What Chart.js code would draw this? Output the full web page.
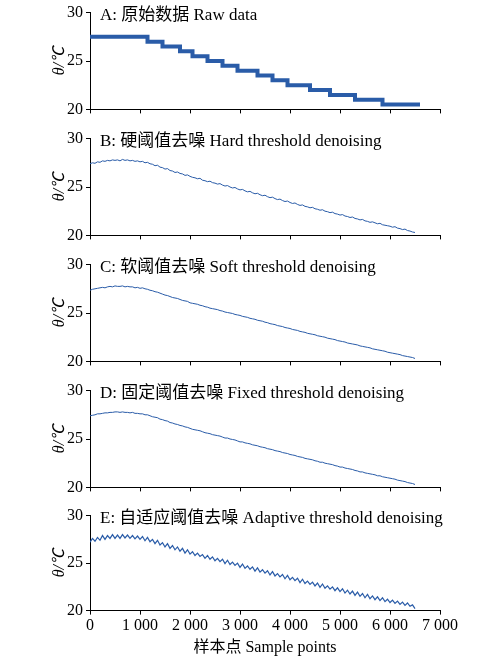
<!DOCTYPE html>
<html><head><meta charset="utf-8">
<script src="https://cdn.jsdelivr.net/npm/chart.js@4"></script>
<style>
body{margin:0;background:#fff;width:500px;height:660px;position:relative;overflow:hidden}
canvas{position:absolute;left:0}
.lab{position:absolute;left:100px;font:17px "Liberation Serif","Noto Sans CJK SC",serif;color:#000;white-space:nowrap}
</style></head><body>
<script>
const STEP = 50;
const panelLabels = ["A: 原始数据 Raw data","B: 硬阈值去噪 Hard threshold denoising","C: 软阈值去噪 Soft threshold denoising","D: 固定阈值去噪 Fixed threshold denoising","E: 自适应阈值去噪 Adaptive threshold denoising"];
const xTicks = [0,1000,2000,3000,4000,5000,6000,7000];
const yTicks = [20,25,30];
const rawData = [27.5,27.5,27.5,27.5,27.5,27.5,27.5,27.5,27.5,27.5,27.5,27.5,27.5,27.5,27.5,27.5,27.5,27.5,27.5,27.5,27.5,27.5,27.5,27.0,27.0,27.0,27.0,27.0,27.0,26.5,26.5,26.5,26.5,26.5,26.5,26.5,26.0,26.0,26.0,26.0,26.0,25.5,25.5,25.5,25.5,25.5,25.5,25.0,25.0,25.0,25.0,25.0,25.0,24.5,24.5,24.5,24.5,24.5,24.5,24.0,24.0,24.0,24.0,24.0,24.0,24.0,24.0,23.5,23.5,23.5,23.5,23.5,23.5,23.0,23.0,23.0,23.0,23.0,23.0,22.5,22.5,22.5,22.5,22.5,22.5,22.5,22.5,22.5,22.0,22.0,22.0,22.0,22.0,22.0,22.0,22.0,21.5,21.5,21.5,21.5,21.5,21.5,21.5,21.5,21.5,21.5,21.0,21.0,21.0,21.0,21.0,21.0,21.0,21.0,21.0,21.0,21.0,20.5,20.5,20.5,20.5,20.5,20.5,20.5,20.5,20.5,20.5,20.5,20.5,20.5,20.5,20.5,20.5];
const hardData = [27.4,27.5,27.45,27.6,27.55,27.7,27.65,27.75,27.7,27.8,27.75,27.8,27.7,27.85,27.75,27.8,27.7,27.75,27.65,27.7,27.6,27.65,27.5,27.55,27.4,27.35,27.2,27.25,27.05,27.0,26.85,26.9,26.7,26.65,26.5,26.55,26.4,26.35,26.2,26.25,26.1,26.0,25.95,25.85,25.9,25.7,25.65,25.55,25.6,25.45,25.4,25.3,25.35,25.2,25.1,25.15,25.0,24.9,24.95,24.8,24.7,24.75,24.6,24.5,24.55,24.4,24.3,24.35,24.2,24.1,24.15,24.0,23.9,23.95,23.8,23.7,23.75,23.6,23.5,23.55,23.4,23.3,23.35,23.2,23.1,23.15,23.0,22.95,22.85,22.9,22.75,22.7,22.6,22.65,22.5,22.45,22.35,22.4,22.25,22.2,22.1,22.15,22.0,21.95,21.85,21.9,21.75,21.7,21.6,21.65,21.5,21.45,21.35,21.4,21.3,21.2,21.25,21.1,21.05,21.0,20.95,20.85,20.9,20.75,20.7,20.6,20.65,20.5,20.45,20.35,20.3];
const softData = [27.35,27.45,27.5,27.55,27.6,27.65,27.6,27.7,27.75,27.7,27.8,27.75,27.75,27.8,27.7,27.75,27.7,27.7,27.6,27.65,27.55,27.6,27.5,27.45,27.35,27.3,27.2,27.15,27.05,26.95,26.85,26.8,26.7,26.6,26.55,26.5,26.4,26.3,26.25,26.2,26.05,26.0,25.95,25.9,25.8,25.75,25.65,25.6,25.5,25.45,25.4,25.35,25.25,25.2,25.1,25.05,25.0,24.95,24.85,24.8,24.75,24.65,24.6,24.55,24.45,24.4,24.35,24.25,24.2,24.15,24.05,24.0,23.9,23.85,23.8,23.7,23.65,23.6,23.5,23.45,23.4,23.3,23.25,23.2,23.1,23.05,23.0,22.9,22.85,22.8,22.75,22.65,22.6,22.55,22.5,22.4,22.35,22.3,22.25,22.15,22.1,22.05,22.0,21.9,21.85,21.8,21.75,21.7,21.6,21.55,21.5,21.45,21.4,21.3,21.25,21.2,21.15,21.1,21.05,20.95,20.9,20.85,20.8,20.75,20.7,20.6,20.55,20.5,20.45,20.4,20.3];
const fixedData = [27.4,27.45,27.5,27.6,27.6,27.65,27.7,27.7,27.75,27.75,27.8,27.8,27.75,27.8,27.75,27.75,27.7,27.75,27.65,27.65,27.6,27.6,27.5,27.5,27.4,27.3,27.25,27.2,27.05,27.0,26.9,26.85,26.7,26.65,26.55,26.5,26.4,26.35,26.25,26.2,26.1,26.0,25.95,25.9,25.85,25.75,25.65,25.6,25.55,25.45,25.4,25.35,25.3,25.2,25.1,25.1,25.0,24.95,24.9,24.8,24.7,24.7,24.6,24.55,24.5,24.4,24.35,24.3,24.2,24.15,24.1,24.0,23.95,23.9,23.8,23.75,23.7,23.6,23.55,23.5,23.4,23.35,23.3,23.2,23.15,23.1,23.0,22.95,22.9,22.85,22.75,22.7,22.6,22.6,22.5,22.45,22.4,22.35,22.25,22.2,22.1,22.1,22.0,21.95,21.9,21.85,21.75,21.7,21.6,21.6,21.5,21.45,21.4,21.35,21.3,21.2,21.2,21.1,21.05,21.0,20.95,20.9,20.85,20.75,20.7,20.65,20.6,20.5,20.45,20.4,20.3];
const adaptData = [27.2,27.6,27.3,27.7,27.4,27.9,27.5,27.9,27.6,28.0,27.6,27.95,27.6,28.0,27.65,27.95,27.6,27.9,27.55,27.85,27.5,27.8,27.35,27.7,27.25,27.5,27.05,27.4,26.9,27.15,26.7,27.05,26.55,26.85,26.4,26.7,26.25,26.55,26.05,26.4,25.95,26.2,25.8,26.05,25.7,25.9,25.5,25.8,25.4,25.65,25.25,25.5,25.15,25.4,24.95,25.3,24.85,25.1,24.75,25.0,24.55,24.9,24.45,24.7,24.35,24.6,24.15,24.5,24.05,24.3,23.95,24.2,23.75,24.1,23.65,23.9,23.55,23.8,23.35,23.7,23.25,23.5,23.15,23.4,22.95,23.3,22.85,23.1,22.75,23.0,22.6,22.9,22.45,22.8,22.35,22.6,22.25,22.5,22.1,22.4,22.0,22.3,21.85,22.15,21.75,22.05,21.6,21.95,21.5,21.8,21.35,21.7,21.25,21.55,21.15,21.45,21.05,21.35,20.95,21.2,20.85,21.1,20.75,21.0,20.65,20.9,20.55,20.8,20.45,20.6,20.2];
const series = [rawData,hardData,softData,fixedData,adaptData];
const widths = [4,1,1,1,1.2];
const plotTops = [10,136,262,388,513];
const serif = '"Liberation Serif","Noto Sans CJK SC",serif';

series.forEach((vals,i)=>{
  const last = i===series.length-1;
  const c = document.createElement('canvas');
  const h = last ? 158 : 122;
  c.style.top = (plotTops[i]-10)+'px';
  c.style.width='500px'; c.style.height=h+'px';
  c.width=500; c.height=h;
  document.body.appendChild(c);
  const lab = document.createElement('div');
  lab.className='lab'; lab.textContent=panelLabels[i];
  lab.style.top=(plotTops[i]-10)+'px';
  document.body.appendChild(lab);
  new Chart(c,{type:'line',
    data:{datasets:[{data:vals.map((v,k)=>({x:k*STEP,y:v})),borderColor:'#2a5ca8',borderWidth:widths[i],pointRadius:0,tension:0,stepped:i===0}]},
    options:{responsive:false,animation:false,
      layout:{padding:{top:10,right:60,bottom:last?0:8,left:46}},
      plugins:{legend:{display:false},tooltip:{enabled:false}},
      scales:{
        x:{type:'linear',min:0,max:7000,
          afterBuildTicks:s=>{s.ticks=xTicks.map(v=>({value:v}));},
          grid:{drawOnChartArea:false,drawTicks:true,tickLength:4,color:'#000'},
          border:{display:true,color:'#000',width:1},
          ticks:{display:last,color:'#000',font:{family:serif,size:16},maxRotation:0,padding:2,
            callback:v=>String(v).replace(/\B(?=(\d{3})+(?!\d))/g,' ')},
          title:{display:last,text:'样本点 Sample points',color:'#000',font:{family:serif,size:16},padding:{top:0}}},
        y:{min:20,max:30,
          afterBuildTicks:s=>{s.ticks=yTicks.map(v=>({value:v}));},
          afterFit:s=>{s.width=44;},
          grid:{drawOnChartArea:false,drawTicks:true,tickLength:4,color:'#000'},
          border:{display:true,color:'#000',width:1},
          ticks:{color:'#000',font:{family:serif,size:16},padding:3},
          title:{display:true,text:'θ/℃',color:'#000',font:{family:serif,size:16,style:'italic'},padding:{bottom:0}}}
      }}});
});
</script></body></html>
